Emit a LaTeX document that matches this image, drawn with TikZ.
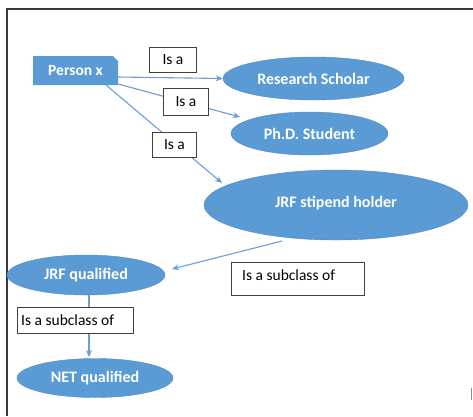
\documentclass[tikz,border=0pt]{standalone}
\usepackage{fontspec}
\setmainfont{Carlito}
\usetikzlibrary{arrows.meta,shapes.geometric}
\definecolor{fillblue}{HTML}{5B9BD5}
\definecolor{lineblue}{HTML}{6A9FD6}
\definecolor{frame}{HTML}{3A3A3A}
\tikzset{
  ent/.style={ellipse, fill=fillblue, draw=fillblue!90!black, line width=0.4pt, text=white, font=\fontsize{16}{18}\selectfont\bfseries, inner sep=0pt},
  lab/.style={draw=black!75, fill=white, line width=0.9pt, inner sep=0pt, anchor=north west},
  labtext/.style={font=\fontsize{15.5}{18}\selectfont, text=black, inner sep=0pt},
  conn/.style={draw=lineblue, line width=1.1pt, -{Stealth[length=7pt,width=6pt]}}
}
\begin{document}
\begin{tikzpicture}[x=1pt,y=-1pt]
\useasboundingbox (0,0) rectangle (473,416);
\fill[white] (0,0) rectangle (473,416);
% frame
\draw[frame, line width=1.4pt] (7,416) -- (7,9) -- (473,9);
\draw[black!45, line width=1pt] (471.5,388) -- (471.5,400);
% Person x snipped rectangle
\fill[fillblue] (33,56) -- (113,56) -- (118,61) -- (118,85) -- (33,85) -- cycle;
\node[text=white, font=\fontsize{15.5}{17}\selectfont\bfseries] (px) at (75.5,71) {Person x};
\coordinate (pxR) at (118,77);
\coordinate (pxB1) at (118,84);
\coordinate (pxB2) at (106,85);
% ellipses
\node[ent, minimum width=181, minimum height=43] (rs) at (313.5,78.5) {Research Scholar};
\node[ent, minimum width=157, minimum height=43] (phd) at (309.5,133.5) {Ph.D. Student};
\node[ent, minimum width=264, minimum height=70] (jrfs) at (336,205) {\raisebox{7pt}{JRF stipend holder}};
\node[ent, minimum width=158, minimum height=40] (jrfq) at (86,275) {JRF qualified};
\node[ent, minimum width=156, minimum height=39] (net) at (95,378) {NET qualified};
% connector end points
\coordinate (phdE) at (240,117);
\coordinate (jrfsE) at (222,183);
\coordinate (jsB) at (282,241);
\coordinate (jqE) at (172,269);
\coordinate (jqB) at (89,295);
\coordinate (netT) at (89,357);
% connectors
\draw[conn] (pxR) -- (rs.west);
\draw[conn] (pxB1) -- (phdE);
\draw[conn] (pxB2) -- (jrfsE);
\draw[conn] (jsB) -- (jqE);
\draw[conn] (jqB) -- (netT);
% labels
\node[lab, minimum width=47, minimum height=25] (l1) at (149,47) {};
\node[labtext] at (l1.center) {Is a};
\node[lab, minimum width=45, minimum height=27] (l2) at (163,88) {};
\node[labtext] at (l2.center) {Is a};
\node[lab, minimum width=44, minimum height=25] (l3) at (152,132) {};
\node[labtext] at (l3.center) {Is a};
\node[lab, minimum width=133, minimum height=33] (l4) at (231,262) {};
\node[labtext, anchor=west] at (242,275) {Is a subclass of};
\node[lab, minimum width=116, minimum height=26] (l5) at (17,307) {};
\node[labtext, anchor=west] at (21,320) {Is a subclass of};
\end{tikzpicture}
\end{document}
